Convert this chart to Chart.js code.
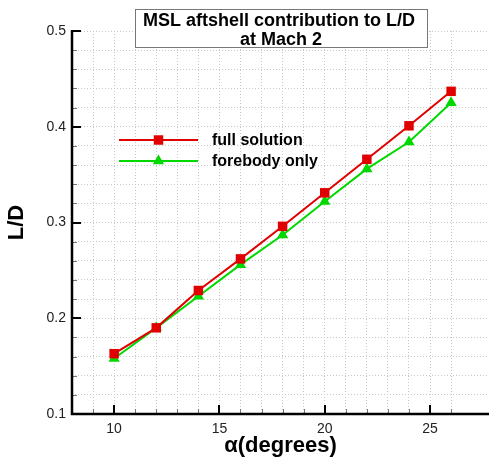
<!DOCTYPE html>
<html>
<head>
<meta charset="utf-8">
<script src="https://cdn.jsdelivr.net/npm/chart.js@4/dist/chart.umd.min.js"></script>
<style>
html,body{margin:0;padding:0;background:#fff;}
#wrap{width:489px;height:457px;}
</style>
</head>
<body>
<div id="wrap"><canvas id="c" width="489" height="457"></canvas></div>
<script>
const alpha = [10, 12, 14, 16, 18, 20, 22, 24, 26];
const fullSolution = [0.163, 0.190, 0.229, 0.262, 0.296, 0.331, 0.366, 0.401, 0.437];
const forebodyOnly = [0.158, 0.190, 0.223, 0.256, 0.287, 0.322, 0.356, 0.384, 0.425];
const seriesNames = ['full solution', 'forebody only'];
const titleLines = ['MSL aftshell contribution to L/D', 'at Mach 2'];
const xTitle = '\u03b1(degrees)';
const yTitle = 'L/D';
const xMajorTicks = [10, 15, 20, 25];
const yMajorTicks = [0.1, 0.2, 0.3, 0.4, 0.5];

const RED = '#e00000';
const GREEN = '#00d800';
const FONT = "'Liberation Sans', Arial, Helvetica, sans-serif";

function isMajor(v, list) {
  return list.some(m => Math.abs(m - v) < 1e-6);
}

function drawMarker(ctx, style, x, y, r, color) {
  ctx.save();
  ctx.fillStyle = color;
  ctx.beginPath();
  if (style === 'rect') {
    const s = Math.SQRT1_2 * r;
    ctx.rect(x - s, y - s, 2 * s, 2 * s);
  } else {
    ctx.moveTo(x, y - r);
    ctx.lineTo(x + r * Math.sin(Math.PI / 3), y + r / 2);
    ctx.lineTo(x - r * Math.sin(Math.PI / 3), y + r / 2);
    ctx.closePath();
  }
  ctx.fill();
  ctx.restore();
}

const ticksPlugin = {
  id: 'inTicks',
  beforeDatasetsDraw(chart) {
    const ctx = chart.ctx;
    const xs = chart.scales.x, ys = chart.scales.y;
    const ca = chart.chartArea;
    ctx.save();
    xs.ticks.forEach(t => {
      const px = xs.getPixelForValue(t.value);
      const major = isMajor(t.value, xMajorTicks);
      ctx.strokeStyle = major ? '#000' : '#777';
      ctx.lineWidth = major ? 2 : 1;
      ctx.beginPath();
      ctx.moveTo(Math.round(px) + (major ? 0 : 0.5), ca.bottom);
      ctx.lineTo(Math.round(px) + (major ? 0 : 0.5), ca.bottom - (major ? 9 : 5));
      ctx.stroke();
    });
    ys.ticks.forEach(t => {
      const py = ys.getPixelForValue(t.value);
      const major = isMajor(t.value, yMajorTicks);
      ctx.strokeStyle = major ? '#000' : '#777';
      ctx.lineWidth = major ? 2 : 1;
      ctx.beginPath();
      ctx.moveTo(ca.left, Math.round(py) + (major ? 0 : 0.5));
      ctx.lineTo(ca.left + (major ? 9 : 5), Math.round(py) + (major ? 0 : 0.5));
      ctx.stroke();
    });
    // axis lines
    ctx.strokeStyle = '#000';
    ctx.lineWidth = 2.5;
    ctx.beginPath();
    ctx.moveTo(ca.left, ca.top - 1);
    ctx.lineTo(ca.left, ca.bottom);
    ctx.lineTo(ca.right, ca.bottom);
    ctx.stroke();
    ctx.restore();
  }
};

const overlayPlugin = {
  id: 'overlay',
  afterDraw(chart) {
    const ctx = chart.ctx;
    ctx.save();
    // title box
    ctx.fillStyle = '#fff';
    ctx.fillRect(135, 9, 292, 39);
    ctx.strokeStyle = '#777';
    ctx.lineWidth = 1;
    ctx.strokeRect(135.5, 9.5, 292, 38);
    ctx.fillStyle = '#000';
    ctx.font = 'bold 18px ' + FONT;
    ctx.textAlign = 'center';
    ctx.textBaseline = 'alphabetic';
    ctx.fillText(titleLines[0], 279, 26);
    ctx.fillText(titleLines[1], 281, 45);
    // legend
    const items = [
      {name: seriesNames[0], color: RED, style: 'rect', r: 6.7, y: 140},
      {name: seriesNames[1], color: GREEN, style: 'triangle', r: 6.5, y: 161}
    ];
    items.forEach(it => {
      ctx.strokeStyle = it.color;
      ctx.lineWidth = 2;
      ctx.beginPath();
      ctx.moveTo(119, it.y);
      ctx.lineTo(198, it.y);
      ctx.stroke();
      drawMarker(ctx, it.style, 158.5, it.y, it.r, it.color);
      ctx.fillStyle = '#000';
      ctx.font = 'bold 16px ' + FONT;
      ctx.textAlign = 'left';
      ctx.textBaseline = 'middle';
      ctx.fillText(it.name, 212, it.y + 0.5);
    });
    ctx.restore();
  }
};

new Chart(document.getElementById('c'), {
  type: 'line',
  data: {
    datasets: [
      {
        label: seriesNames[0],
        data: alpha.map((a, i) => ({x: a, y: fullSolution[i]})),
        borderColor: RED,
        backgroundColor: RED,
        borderWidth: 2,
        pointStyle: 'rect',
        pointRadius: 6.7,
        pointBorderWidth: 0,
        pointBackgroundColor: RED,
        tension: 0
      },
      {
        label: seriesNames[1],
        data: alpha.map((a, i) => ({x: a, y: forebodyOnly[i]})),
        borderColor: GREEN,
        backgroundColor: GREEN,
        borderWidth: 2,
        pointStyle: 'triangle',
        pointRadius: 6.5,
        pointBorderWidth: 0,
        pointBackgroundColor: GREEN,
        tension: 0
      }
    ]
  },
  options: {
    responsive: false,
    devicePixelRatio: 1,
    animation: false,
    layout: {autoPadding: false, padding: {top: 31, left: 0, right: 0, bottom: 0}},
    plugins: {
      legend: {display: false},
      title: {display: false},
      tooltip: {enabled: false}
    },
    scales: {
      x: {
        type: 'linear',
        min: 8,
        max: 27.8,
        afterBuildTicks(scale) {
          scale.ticks = scale.ticks.filter(t => Math.abs(t.value - Math.round(t.value)) < 1e-6);
        },
        afterFit(scale) { scale.height = 43; },
        ticks: {
          stepSize: 1,
          autoSkip: false,
          maxRotation: 0,
          padding: 7,
          color: '#222',
          font: {family: FONT, size: 14},
          callback: v => isMajor(v, xMajorTicks) ? String(v) : ''
        },
        grid: {color: '#c8c8c8', lineWidth: 1, drawTicks: false},
        border: {display: false, dash: [1, 2]},
        title: {
          display: true,
          text: xTitle,
          color: '#000',
          font: {family: FONT, size: 22, weight: 'bold'},
          padding: {top: 0, bottom: -2}
        }
      },
      y: {
        type: 'linear',
        min: 0.1,
        max: 0.5,
        afterFit(scale) { scale.width = 72; },
        ticks: {
          stepSize: 0.02,
          autoSkip: false,
          padding: 6,
          color: '#222',
          font: {family: FONT, size: 14},
          callback: v => isMajor(v, yMajorTicks) ? v.toFixed(1) : ''
        },
        grid: {color: '#c8c8c8', lineWidth: 1, drawTicks: false},
        border: {display: false, dash: [1, 2]},
        title: {
          display: true,
          text: yTitle,
          color: '#000',
          font: {family: FONT, size: 22, weight: 'bold'},
          padding: {top: 4, bottom: 0}
        }
      }
    }
  },
  plugins: [ticksPlugin, overlayPlugin]
});
</script>
</body>
</html>
